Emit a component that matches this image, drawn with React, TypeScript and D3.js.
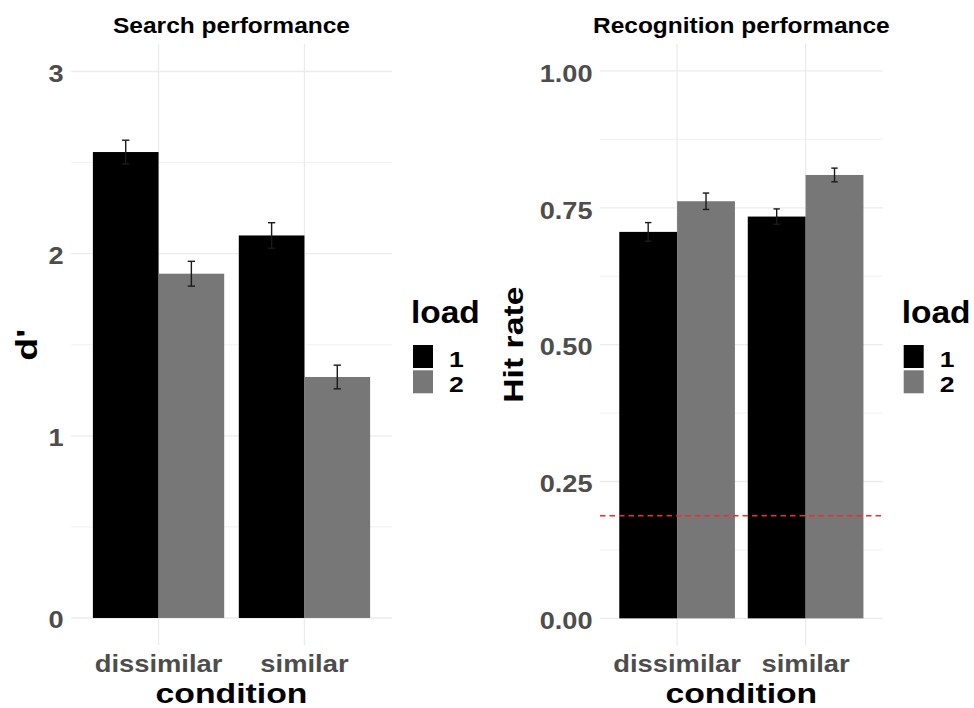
import React from 'react';
import * as d3 from 'd3';

// ---- data ----
const conditions = ['dissimilar', 'similar'];
const loads = ['1', '2'];
const loadColors = ['#000000', '#777777'];

const searchLoad1 = [2.558, 2.1];
const searchLoad2 = [1.89, 1.323];
const searchSE1 = [0.065, 0.07];
const searchSE2 = [0.068, 0.065];
const searchTicks = [0, 1, 2, 3];
const searchMinor = [0.5, 1.5, 2.5];

const recogLoad1 = [0.706, 0.734];
const recogLoad2 = [0.762, 0.81];
const recogSE1 = [0.017, 0.014];
const recogSE2 = [0.015, 0.0125];
const recogTicks = [0, 0.25, 0.5, 0.75, 1];
const recogMinor = [0.125, 0.375, 0.625, 0.875];
const chanceLevel = 0.1875;

const FONT = '"Liberation Sans", Arial, Helvetica, sans-serif';

function T({ x, y, text, size, sx = 1, anchor = 'start', fill = '#000', rotate = false }: any) {
  return (
    <text
      transform={`translate(${x},${y})${rotate ? ' rotate(-90)' : ''} scale(${sx},1)`}
      textAnchor={anchor}
      fontSize={size}
      fontWeight="bold"
      fill={fill}
      fontFamily={FONT}
    >
      {text}
    </text>
  );
}

function Panel({ left, right, top, bottom, domain, ticks, minor, fmt, load1, load2, se1, se2, title, yTitle, yTitleX, hline, tickDy }: any) {
  const y = d3.scaleLinear().domain(domain).range([bottom, top]);
  const x = d3.scaleBand<string>().domain(conditions).range([left, right]).paddingInner(0.1).paddingOuter(0.15);
  const xs = d3.scaleBand<string>().domain(loads).range([0, x.bandwidth()]);
  const series = [load1, load2];
  const ses = [se1, se2];
  const cx = (left + right) / 2;
  const cy = (y(domain[0]) + y(domain[1])) / 2;
  const capW = x.step() * 0.05;
  return (
    <g>
      {/* grid */}
      {minor.map((v: number) => (
        <line key={'mn' + v} x1={left} x2={right} y1={y(v)} y2={y(v)} stroke="#ebebeb" strokeWidth={0.7} />
      ))}
      {ticks.map((v: number) => (
        <line key={'mj' + v} x1={left} x2={right} y1={y(v)} y2={y(v)} stroke="#ebebeb" strokeWidth={1.3} />
      ))}
      {conditions.map((c) => (
        <line key={'v' + c} x1={x(c)! + x.bandwidth() / 2} x2={x(c)! + x.bandwidth() / 2} y1={top} y2={bottom} stroke="#ebebeb" strokeWidth={1.3} />
      ))}
      {/* bars */}
      {series.map((vals: number[], li: number) =>
        conditions.map((c, ci) => (
          <rect
            key={'b' + li + c}
            x={x(c)! + xs(loads[li])!}
            width={xs.bandwidth()}
            y={y(vals[ci])}
            height={y(0) - y(vals[ci])}
            fill={loadColors[li]}
          />
        ))
      )}
      {/* error bars */}
      {series.map((vals: number[], li: number) =>
        conditions.map((c, ci) => {
          const bx = x(c)! + xs(loads[li])! + xs.bandwidth() / 2;
          const hi = y(vals[ci] + ses[li][ci]);
          const lo = y(vals[ci] - ses[li][ci]);
          return (
            <g key={'e' + li + c} stroke="#1a1a1a" strokeWidth={1.4} fill="none">
              <line x1={bx} x2={bx} y1={hi} y2={lo} />
              <line x1={bx - capW / 2} x2={bx + capW / 2} y1={hi} y2={hi} />
              <line x1={bx - capW / 2} x2={bx + capW / 2} y1={lo} y2={lo} />
            </g>
          );
        })
      )}
      {hline !== undefined && (
        <line x1={left} x2={right} y1={y(hline)} y2={y(hline)} stroke="#f52a2a" strokeWidth={1.6} strokeDasharray="5.5 4" />
      )}
      {/* y tick labels */}
      {ticks.map((v: number) => (
        <T key={'yt' + v} x={left - 7.5} y={y(v) + tickDy} text={fmt(v)} size={23} sx={1.18} anchor="end" fill="#4d4d4d" />
      ))}
      {/* x tick labels */}
      {conditions.map((c) => (
        <T key={'xt' + c} x={x(c)! + x.bandwidth() / 2} y={671.7} text={c} size={23} sx={1.19} anchor="middle" fill="#4d4d4d" />
      ))}
      {/* titles */}
      <T x={cx} y={33.3} text={title} size={21.5} sx={1.14} anchor="middle" />
      <T x={cx} y={703} text="condition" size={27} sx={1.25} anchor="middle" />
      <T x={yTitleX} y={cy} text={yTitle} size={yTitle.length < 3 ? 30 : 27} sx={1.25} anchor="middle" rotate />
      {/* legend */}
      <T x={right + 19} y={323} text="load" size={31} sx={1.08} anchor="start" />
      {loads.map((l, i) => (
        <g key={'lg' + l}>
          <rect x={right + 21} y={345 + i * 25.3} width={20} height={23} fill={loadColors[i]} />
          <T x={right + 57} y={366.5 + i * 25.8} text={l} size={22.5} sx={1.18} anchor="start" />
        </g>
      ))}
    </g>
  );
}

export default function App() {
  return (
    <svg width={974} height={708} style={{ position: 'absolute', left: 0, top: 0, background: '#fff' }}>
      <rect x={0} y={0} width={974} height={708} fill="#fff" />
      <Panel
        left={71}
        right={392}
        top={44.2}
        bottom={645.3}
        domain={[-0.15, 3.15]}
        ticks={searchTicks}
        minor={searchMinor}
        fmt={d3.format('d')}
        load1={searchLoad1}
        load2={searchLoad2}
        se1={searchSE1}
        se2={searchSE2}
        title="Search performance"
        yTitle="d'"
        yTitleX={36.7}
        tickDy={10.5}
      />
      <Panel
        left={600}
        right={882.7}
        top={43.6}
        bottom={645.7}
        domain={[-0.05, 1.05]}
        ticks={recogTicks}
        minor={recogMinor}
        fmt={d3.format('.2f')}
        load1={recogLoad1}
        load2={recogLoad2}
        se1={recogSE1}
        se2={recogSE2}
        title="Recognition performance"
        yTitle="Hit rate"
        yTitleX={523.3}
        hline={chanceLevel}
        tickDy={10.8}
      />
    </svg>
  );
}
